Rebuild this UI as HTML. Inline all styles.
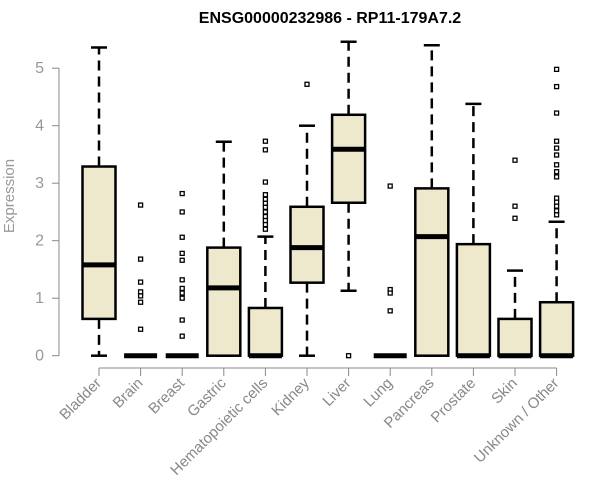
<!DOCTYPE html>
<html><head><meta charset="utf-8"><style>
html,body{margin:0;padding:0;background:#fff;}
svg{display:block;font-family:"Liberation Sans",Arial,sans-serif;}
</style></head><body>
<svg id="chart" width="600" height="500" viewBox="0 0 600 500">
<text x="330" y="23" text-anchor="middle" font-weight="bold" font-size="16" fill="#000">ENSG00000232986 - RP11-179A7.2</text>
<text transform="translate(14,196) rotate(-90)" text-anchor="middle" font-size="15" fill="#999">Expression</text>
<g id="yaxis"></g>
<g id="xaxis"></g>
<g id="plot"></g>
</svg>
<script>
const categories = ["Bladder","Brain","Breast","Gastric","Hematopoietic cells","Kidney","Liver","Lung","Pancreas","Prostate","Skin","Unknown / Other"];
const whiskerLow = [0,0,0,0,0,0,1.13,0,0,0,0,0];
const q1 = [0.64,0,0,0,0,1.27,2.66,0,0,0,0,0];
const median = [1.58,0,0,1.18,0,1.88,3.59,0,2.07,0,0,0];
const q3 = [3.29,0,0,1.88,0.83,2.59,4.19,0,2.91,1.94,0.64,0.93];
const whiskerHigh = [5.36,0,0,3.72,2.07,4.0,5.46,0,5.40,4.38,1.48,2.33];
const outliers = [
 [],
 [2.62,1.68,1.28,1.11,1.04,0.93,0.46],
 [2.82,2.50,2.06,1.78,1.66,1.32,1.17,1.09,1.00,0.62,0.34],
 [],
 [3.73,3.58,3.02,2.80,2.72,2.65,2.58,2.50,2.42,2.35,2.28,2.20],
 [4.72],
 [0],
 [2.95,1.15,1.09,0.78],
 [],
 [],
 [3.40,2.60,2.39],
 [4.98,4.68,4.22,3.73,3.61,3.49,3.32,3.20,3.11,2.74,2.67,2.60,2.52,2.45]
];
const yTicks = [0,1,2,3,4,5];

const NS="http://www.w3.org/2000/svg";
const y = v => 355.7 - v*57.5;
const x = i => 99 + i*41.6;
const HW = 16.5;
function mk(tag, attrs, parent){
  const e=document.createElementNS(NS,tag);
  for(const k in attrs) e.setAttribute(k,attrs[k]);
  parent.appendChild(e); return e;
}
const ya=document.getElementById('yaxis'), xa=document.getElementById('xaxis'), plot=document.getElementById('plot');
let l=mk('line',{x1:59,x2:59,y1:y(0),y2:y(5),stroke:'#888','stroke-width':1},ya);


yTicks.forEach(t=>{
  let tk=mk('line',{x1:52,x2:59,y1:y(t),y2:y(t),stroke:'#888'},ya);
  
  
  let tx=mk('text',{x:44,y:y(t)+5,'text-anchor':'end','font-size':16,fill:'#999'},ya);
  tx.textContent=t;
  
  
});
let xl=mk('line',{x1:x(0),x2:x(categories.length-1),y1:368,y2:368,stroke:'#888'},xa);


categories.forEach((c,i)=>{
  const cx=x(i);
  let tk=mk('line',{x1:cx,x2:cx,y1:368,y2:376,stroke:'#888'},xa);
  
  
  let tx=mk('text',{transform:`translate(${cx+3},${384}) rotate(-45)`,'text-anchor':'end','font-size':15,fill:'#888'},xa);
  tx.textContent=c;
  
  

  const g=mk('g',{},plot);
  
  
  if(whiskerHigh[i]>q3[i]){
    mk('line',{x1:cx,x2:cx,y1:y(q3[i]),y2:y(whiskerHigh[i]),stroke:'#000','stroke-width':2.5,'stroke-dasharray':'10,6'},g);
    mk('line',{x1:cx-8,x2:cx+8,y1:y(whiskerHigh[i]),y2:y(whiskerHigh[i]),stroke:'#000','stroke-width':2.5},g);
  }
  if(q1[i]>whiskerLow[i]){
    mk('line',{x1:cx,x2:cx,y1:y(q1[i]),y2:y(whiskerLow[i]),stroke:'#000','stroke-width':2.5,'stroke-dasharray':'10,6'},g);
  }
  mk('line',{x1:cx-8,x2:cx+8,y1:y(whiskerLow[i]),y2:y(whiskerLow[i]),stroke:'#000','stroke-width':2.5},g);
  if(q3[i]>q1[i]){
    mk('rect',{x:cx-HW,y:y(q3[i]),width:HW*2,height:y(q1[i])-y(q3[i]),fill:'#EEE8CD',stroke:'#000','stroke-width':2.5},g);
  }
  mk('line',{x1:cx-HW,x2:cx+HW,y1:y(median[i]),y2:y(median[i]),stroke:'#000','stroke-width':5},g);
  outliers[i].forEach(v=>{
    let p=mk('rect',{x:cx-2,y:y(v)-2,width:4,height:4,fill:'#fff',stroke:'#000','stroke-width':1.3},g);
    
    
  });
});
</script>
</body></html>
